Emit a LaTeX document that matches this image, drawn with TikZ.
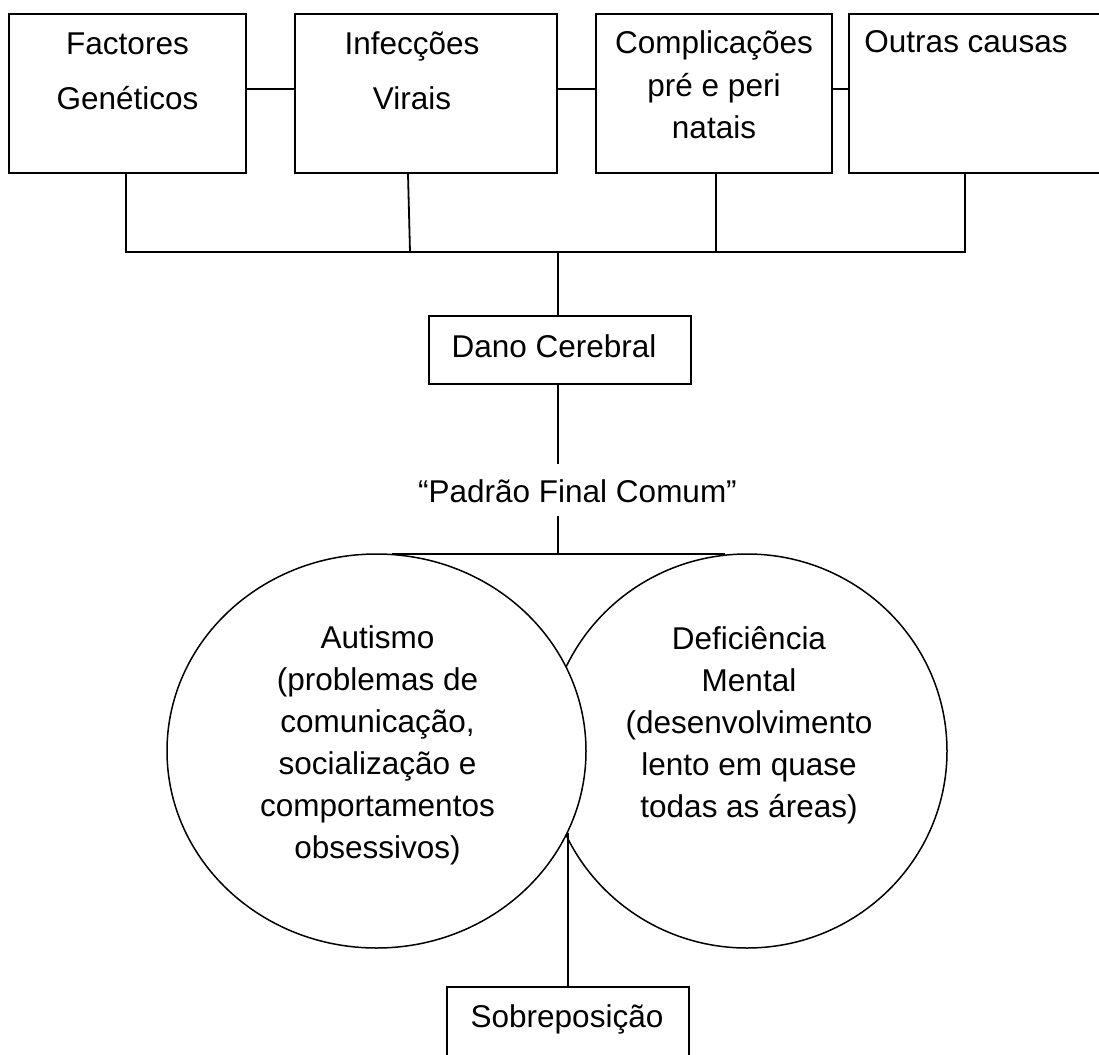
\documentclass[tikz,border=0pt]{standalone}
\usepackage{fontspec}
\setmainfont{Liberation Sans}
\usetikzlibrary{shapes.geometric}
\begin{document}
\begin{tikzpicture}[x=1pt,y=-1pt,
 box/.style={draw, line width=1.8pt, rectangle, inner sep=0pt},
 oval/.style={draw, line width=1.5pt, ellipse, fill=white, inner sep=0pt},
 txt/.style={inner sep=0pt, align=center, anchor=base, font=\fontsize{31.5}{42}\selectfont},
 wide/.style={font=\fontsize{31.5}{55}\selectfont},
 conn/.style={line width=1.8pt}]
\clip (0,0) rectangle (1099,1054);
% top boxes
\node[box, minimum width=237pt, minimum height=159pt] (b1) at (127.5,93.5) {};
\node[box, minimum width=262pt, minimum height=159pt] (b2) at (426,93.5) {};
\node[box, minimum width=236pt, minimum height=159pt] (b3) at (714,93.5) {};
\node[box, minimum width=271pt, minimum height=159pt] (b4) at (984.5,93.5) {};
\node[txt, wide] (t1) at (127.5,110) {Factores\\Genéticos};
\node[txt, wide] (t2) at (412,110) {Infecções\\Virais};
\node[txt] (t3) at (714,138) {Complicações\\pré e peri\\natais};
\node[txt] (t4) at (966,53) {Outras causas};
% side connectors
\draw[conn] ([yshift=4.5pt]b1.east) -- ([yshift=4.5pt]b2.west);
\draw[conn] ([yshift=4.5pt]b2.east) -- ([yshift=4.5pt]b3.west);
\draw[conn] ([yshift=4.5pt]b3.east) -- ([yshift=4.5pt]b4.west);
% bus
\coordinate (j1) at (126,252);
\coordinate (j2) at (410,252);
\coordinate (j3) at (716,252);
\coordinate (j4) at (965,252);
\coordinate (jc) at (558,252);
\draw[conn] (b1.south -| j1) -- (j1) -- (j4) -- (b4.south -| j4);
\draw[conn] ([xshift=-18pt]b2.south) -- (j2);
\draw[conn] (b3.south -| j3) -- (j3);
% dano cerebral
\node[box, minimum width=262pt, minimum height=68pt] (dano) at (560,350) {};
\node[txt] (t5) at (554,357) {Dano Cerebral};
\draw[conn] (jc) -- (dano.north -| jc);
\coordinate (pa) at (558,464);
\draw[conn] (dano.south -| pa) -- (pa);
\node[txt] (t6) at (577.5,502) {“Padrão Final Comum”};
% ellipses
\node[oval, minimum width=400pt, minimum height=394pt] (dm) at (747,751) {};
\node[oval, minimum width=419pt, minimum height=394pt] (au) at (376.5,751) {};
\node[txt] (t7) at (377.5,858) {Autismo\\(problemas de\\comunicação,\\socialização e\\comportamentos\\obsessivos)};
\node[txt] (t8) at (749,817) {Deficiência\\Mental\\(desenvolvimento\\lento em quase\\todas as áreas)};
\coordinate (pb) at (558,516);
\coordinate (hL) at (392,554);
\coordinate (hR) at (725,554);
\draw[conn] (pb) -- (pb |- hL);
\draw[conn] (hL) -- (hR);
% overlap
\node[box, minimum width=242pt, minimum height=93pt] (sob) at (568,1033.5) {};
\node[txt] (t9) at (567,1027) {Sobreposição};
\coordinate (ov) at (568,833);
\draw[conn] (ov) -- (sob.north);
\end{tikzpicture}
\end{document}
